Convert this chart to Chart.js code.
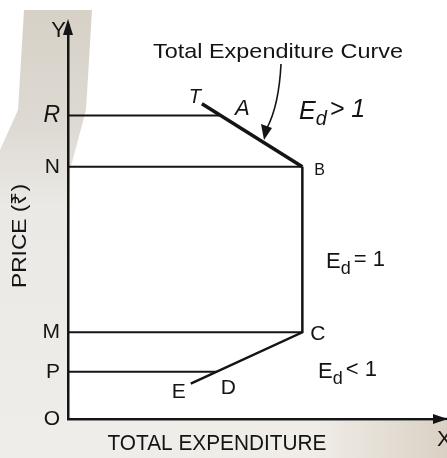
<!DOCTYPE html>
<html>
<head>
<meta charset="utf-8">
<script src="https://cdn.jsdelivr.net/npm/chart.js@4.4.0/dist/chart.umd.min.js"></script>
<style>
  html, body { margin: 0; padding: 0; background: #fff; }
  #wrap { width: 447px; height: 458px; }
</style>
</head>
<body>
<div id="wrap"><canvas id="teChart" width="447" height="458"></canvas></div>
<script>
// price levels marked on the Y axis
const levelNames = ['O', 'P', 'M', 'N', 'R'];
const levelPrices = [0, 12, 22, 64, 77];
// how far each price line runs out to the curve (total expenditure)
const levelSpend = [0, 40, 63, 63, 41];

// total expenditure curve T-B (Ed > 1), B-C (Ed = 1), C-E (Ed < 1)
const curveNames = ['T', 'B', 'C', 'E'];
const curveSpend = [36, 63, 63, 33];
const curvePrice = [80, 64, 22, 9];

const ink = '#141414';
const sans = '"Liberation Sans", Arial, sans-serif';

function pts(xs, ys) {
    return xs.map(function(x, i) { return { x: x, y: ys[i] }; });
}

const datasets = [];
// T-B segment drawn a little heavier, like the print
datasets.push({ data: pts(curveSpend.slice(0, 2), curvePrice.slice(0, 2)), borderWidth: 3.5 });
datasets.push({ data: pts(curveSpend.slice(1), curvePrice.slice(1)), borderWidth: 2.5 });
for (let i = 1; i < levelNames.length; i++) {
    datasets.push({ data: pts([0, levelSpend[i]], [levelPrices[i], levelPrices[i]]), borderWidth: 2 });
}
datasets.forEach(function(d) {
    d.showLine = true;
    d.borderColor = ink;
    d.pointRadius = 0;
    d.fill = false;
    d.tension = 0;
    d.borderCapStyle = 'butt';
});

function fitText(ctx, text, cx, y, width) {
    const w = ctx.measureText(text).width;
    ctx.save();
    ctx.translate(cx, y);
    ctx.scale(width / w, 1);
    ctx.textAlign = 'center';
    ctx.fillText(text, 0, 0);
    ctx.restore();
}

function edLabel(ctx, x, y, rel, italic, size) {
    const f = (italic ? 'italic ' : '') + size + 'px ' + sans;
    const fs = (italic ? 'italic ' : '') + Math.round(size * 0.8) + 'px ' + sans;
    ctx.textAlign = 'left';
    ctx.font = f;
    ctx.fillText('E', x, y);
    let cx = x + ctx.measureText('E').width;
    ctx.font = fs;
    ctx.fillText('d', cx, y + 6);
    cx += ctx.measureText('d').width + 3;
    ctx.font = f;
    ctx.fillText(rel, cx, y - 2);
}

const paper = {
    id: 'paper',
    beforeDraw: function(chart) {
        const ctx = chart.ctx;
        ctx.save();
        ctx.fillStyle = '#ffffff';
        ctx.fillRect(0, 0, chart.width, chart.height);
        // grey scanned strip on the left
        let g = ctx.createLinearGradient(0, 0, 0, 458);
        g.addColorStop(0, '#d6d0c6');
        g.addColorStop(0.28, '#dedad3');
        g.addColorStop(0.45, '#ebe9e5');
        g.addColorStop(1, '#efedea');
        ctx.fillStyle = g;
        ctx.beginPath();
        ctx.moveTo(24, 10);
        ctx.lineTo(92, 10);
        ctx.lineTo(86, 110);
        ctx.lineTo(70, 170);
        ctx.lineTo(66, 458);
        ctx.lineTo(0, 458);
        ctx.lineTo(0, 150);
        ctx.lineTo(18, 110);
        ctx.closePath();
        ctx.fill();
        // bottom strip
        g = ctx.createLinearGradient(0, 0, 447, 0);
        g.addColorStop(0, '#efedea');
        g.addColorStop(0.7, '#f0ede8');
        g.addColorStop(1, '#dad1c4');
        ctx.fillStyle = g;
        ctx.fillRect(0, 421, 447, 37);
        ctx.restore();
    },
    afterDraw: function(chart) {
        const ctx = chart.ctx;
        const xs = chart.scales.x, ys = chart.scales.y;
        const px = function(v) { return xs.getPixelForValue(v); };
        const py = function(v) { return ys.getPixelForValue(v); };
        const a = chart.chartArea;
        ctx.save();
        ctx.fillStyle = ink;
        ctx.strokeStyle = ink;
        ctx.textBaseline = 'alphabetic';

        // axis arrowheads
        ctx.beginPath();
        ctx.moveTo(a.left, a.top - 6);
        ctx.lineTo(a.left - 5, a.top + 10);
        ctx.lineTo(a.left + 5, a.top + 10);
        ctx.closePath();
        ctx.fill();
        ctx.lineWidth = 2.5;
        ctx.beginPath();
        ctx.moveTo(a.right, a.bottom);
        ctx.lineTo(447, a.bottom);
        ctx.stroke();
        ctx.beginPath();
        ctx.moveTo(448, a.bottom);
        ctx.lineTo(433, a.bottom - 5);
        ctx.lineTo(433, a.bottom + 5);
        ctx.closePath();
        ctx.fill();

        ctx.font = '22px ' + sans;
        ctx.textAlign = 'right';
        ctx.fillText('Y', a.left - 2, a.top + 12);
        ctx.textAlign = 'left';
        ctx.fillText('X', 437, a.bottom + 27);

        // axis titles
        ctx.font = '22px ' + sans;
        fitText(ctx, 'TOTAL EXPENDITURE', 217, 450, 219);
        ctx.save();
        ctx.translate(26, 236);
        ctx.rotate(-Math.PI / 2);
        ctx.font = '21px ' + sans;
        fitText(ctx, 'PRICE (\u20B9)', 0, 0, 104);
        ctx.restore();

        // curve title with pointer arrow
        ctx.font = '21px ' + sans;
        fitText(ctx, 'Total Expenditure Curve', 278, 58, 250);
        ctx.lineWidth = 1.6;
        ctx.beginPath();
        ctx.moveTo(281, 64);
        ctx.quadraticCurveTo(279, 105, 267, 128);
        ctx.stroke();
        ctx.beginPath();
        ctx.moveTo(264, 140);
        ctx.lineTo(261, 124);
        ctx.lineTo(272, 128);
        ctx.closePath();
        ctx.fill();

        // point letters
        const tx = px(curveSpend[0]), ty = py(curvePrice[0]);
        ctx.font = 'italic 20px ' + sans;
        ctx.textAlign = 'right';
        ctx.fillText(curveNames[0], tx - 1, ty - 1);
        ctx.font = 'italic 22px ' + sans;
        ctx.textAlign = 'left';
        ctx.fillText('A', tx + 33, ty + 11);
        ctx.font = '16px ' + sans;
        ctx.fillText(curveNames[1], px(curveSpend[1]) + 12, py(curvePrice[1]) + 8);
        ctx.font = '21px ' + sans;
        ctx.fillText(curveNames[2], px(curveSpend[2]) + 8, py(curvePrice[2]) + 8);
        ctx.textAlign = 'right';
        ctx.fillText(curveNames[3], px(curveSpend[3]) - 5, py(curvePrice[3]) + 14);
        ctx.textAlign = 'left';
        ctx.fillText('D', px(levelSpend[1]) + 4, py(levelPrices[1]) + 22);

        // elasticity zones
        edLabel(ctx, 299, 119, '> 1', true, 25);
        edLabel(ctx, 326, 268, '= 1', false, 22);
        edLabel(ctx, 318, 378, '< 1', false, 22);
        ctx.restore();
    }
};

new Chart(document.getElementById('teChart').getContext('2d'), {
    type: 'scatter',
    data: { datasets: datasets },
    options: {
        responsive: false,
        animation: false,
        events: [],
        layout: { padding: { top: 25, right: 7, left: 0, bottom: 0 } },
        plugins: { legend: { display: false }, tooltip: { enabled: false } },
        scales: {
            x: {
                type: 'linear', min: 0, max: 100,
                grid: { display: false, drawTicks: false },
                border: { display: true, color: ink, width: 2.5 },
                ticks: { display: false },
                afterFit: function(s) { s.height = 39; }
            },
            y: {
                type: 'linear', min: 0, max: 100,
                grid: { display: false, drawTicks: false },
                border: { display: true, color: ink, width: 2.5 },
                afterBuildTicks: function(s) {
                    s.ticks = levelPrices.map(function(v) { return { value: v }; });
                },
                ticks: {
                    color: ink,
                    padding: 8,
                    font: function(c) {
                        const italic = c.tick && c.tick.value === 77;
                        return { family: sans, size: italic ? 23 : 21, style: italic ? 'italic' : 'normal' };
                    },
                    callback: function(v) {
                        const i = levelPrices.indexOf(v);
                        return i >= 0 ? levelNames[i] : '';
                    }
                },
                afterFit: function(s) { s.width = 68; }
            }
        }
    },
    plugins: [paper]
});
</script>
</body>
</html>
